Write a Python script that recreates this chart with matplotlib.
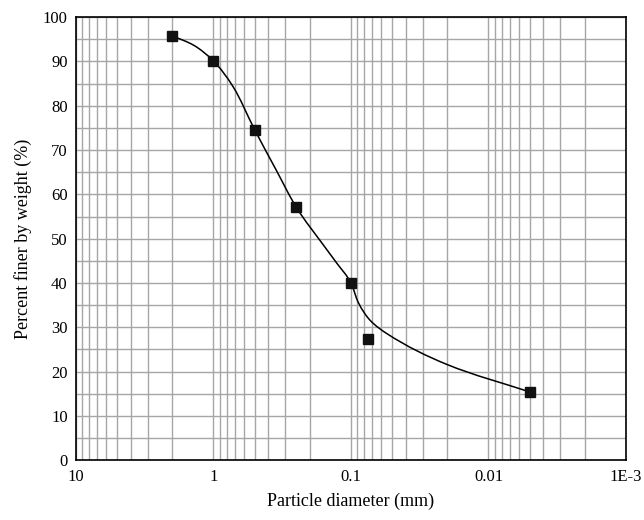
import numpy as np
import matplotlib.pyplot as plt
from matplotlib.path import Path
from matplotlib.patches import PathPatch
from matplotlib.ticker import FixedLocator, LogLocator, MultipleLocator, NullFormatter

# measured points
diam = [2.0, 1.0, 0.5, 0.25, 0.1, 0.075, 0.005]
finer = [95.8, 90.1, 74.5, 57.1, 40.0, 27.3, 15.4]

# smooth curve
curve_d = [2.0, 1.4, 1.0, 0.72, 0.5, 0.35, 0.25, 0.159, 0.127, 0.1, 0.0885,
           0.0727, 0.055, 0.020, 0.005]
curve_p = [95.8, 93.7, 90.1, 84.3, 74.5, 65.5, 57.1, 48.6, 44.5, 40.0, 35.6,
           31.6, 28.6, 21.6, 15.4]

xticks = [10, 1, 0.1, 0.01, 0.001]
xlabels = ['10', '1', '0.1', '0.01', '1E-3']

plt.rcParams['font.family'] = ['Liberation Serif', 'DejaVu Serif']


def smooth_path(xs, ys):
    # monotone (pchip style) tangents in log x, drawn as bezier segments
    u = np.log10(xs)
    y = np.asarray(ys, float)
    h = np.diff(u)
    d = np.diff(y) / h
    m = np.empty_like(y)
    m[0], m[-1] = d[0], d[-1]
    for k in range(1, len(y) - 1):
        a, b = abs(h[k - 1]), abs(h[k])
        w1, w2 = 2 * b + a, b + 2 * a
        if d[k - 1] * d[k] > 0:
            m[k] = (w1 + w2) / (w1 / d[k - 1] + w2 / d[k])
        else:
            m[k] = 0.0
    verts = [(xs[0], y[0])]
    codes = [Path.MOVETO]
    for i in range(len(u) - 1):
        c1 = (u[i] + h[i] / 3, y[i] + m[i] * h[i] / 3)
        c2 = (u[i + 1] - h[i] / 3, y[i + 1] - m[i + 1] * h[i] / 3)
        verts += [(10 ** c1[0], c1[1]), (10 ** c2[0], c2[1]), (xs[i + 1], y[i + 1])]
        codes += [Path.CURVE4] * 3
    return Path(verts, codes)


fig = plt.figure(figsize=(6.44, 5.2), dpi=100)
ax = fig.add_axes([0.118, 0.115, 0.854, 0.852])

ax.set_xscale('log')
ax.set_xlim(10, 0.001)
ax.set_ylim(0, 100)

ax.add_patch(PathPatch(smooth_path(curve_d, curve_p), fill=False,
                       edgecolor='black', lw=1.1, zorder=3))
ax.plot(diam, finer, 's', color='#111111', ms=7.5, zorder=4)

ax.xaxis.set_major_locator(FixedLocator(xticks))
ax.set_xticklabels(xlabels)
ax.xaxis.set_minor_locator(LogLocator(base=10, subs=np.arange(2, 10)))
ax.xaxis.set_minor_formatter(NullFormatter())
ax.yaxis.set_major_locator(MultipleLocator(10))
ax.yaxis.set_minor_locator(MultipleLocator(5))

ax.grid(True, which='both', color='#a6a6a6', lw=1.0)
ax.set_axisbelow(True)
ax.tick_params(which='both', length=0, labelsize=12, pad=6)

for s in ax.spines.values():
    s.set_linewidth(1.2)
    s.set_zorder(5)

ax.set_xlabel('Particle diameter (mm)', fontsize=13, labelpad=6)
ax.set_ylabel('Percent finer by weight (%)', fontsize=13, labelpad=8)

fig.savefig('out.png', dpi=100)
